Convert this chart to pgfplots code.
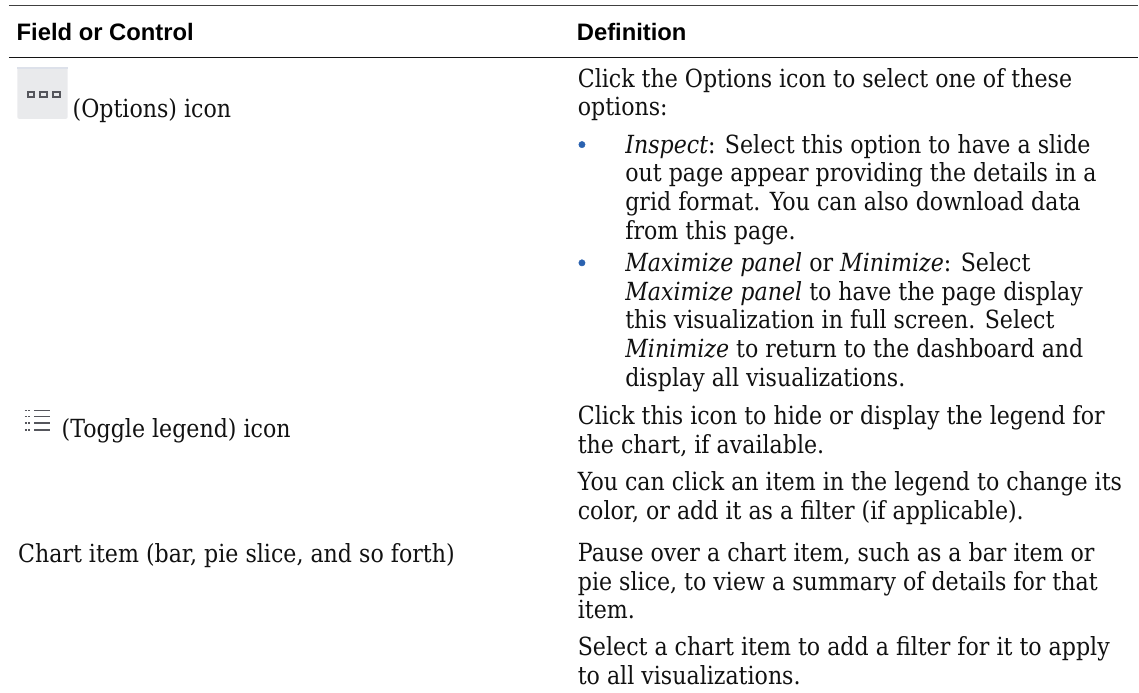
\documentclass[border=0pt]{standalone}
\usepackage{pgfplots}
\pgfplotsset{compat=1.18}
\usepackage{fontspec}
\setmainfont[FakeStretch=0.885]{DejaVu Serif}
\newfontfamily\hd{Liberation Sans}
\definecolor{txt}{HTML}{111111}
\definecolor{blt}{HTML}{2A62B0}
\definecolor{iconbg}{HTML}{E9EAEC}
\definecolor{icontop}{HTML}{DDE1EA}
\definecolor{iconfg}{HTML}{55565C}
\newcommand\T[3]{\node[anchor=base west,inner sep=0pt,text=txt,font=\fontsize{25pt}{29pt}\selectfont] at (axis cs:#1,#2) {#3};}
\begin{document}
\begin{tikzpicture}
\begin{axis}[hide axis,scale only axis,width=1139pt,height=693pt,xmin=0,xmax=1139,ymin=0,ymax=693,y dir=reverse,clip=false]
\path (axis cs:0,0) rectangle (axis cs:1139,693);
\draw[black!75,line width=1.4pt] (axis cs:9,5.7) -- (axis cs:1139,5.7);
\draw[black!92,line width=1.4pt] (axis cs:9,57.4) -- (axis cs:1139,57.4);
\node[anchor=base west,inner sep=0pt,font=\hd\bfseries\fontsize{23.8pt}{28pt}\selectfont] at (axis cs:16.5,40.7) {Field or Control};
\node[anchor=base west,inner sep=0pt,font=\hd\bfseries\fontsize{23.8pt}{28pt}\selectfont] at (axis cs:577,40.7) {Definition};
% options icon
\fill[iconbg,rounded corners=2pt] (axis cs:17.3,67.3) rectangle (axis cs:67.7,119);
\fill[icontop] (axis cs:17.3,67.3) rectangle (axis cs:67.7,69);
\foreach \x in {27.6,40.3,53}{\edef\tmp{\noexpand\draw[iconfg,line width=1.9pt] (axis cs:\x,91.7) rectangle (axis cs:\x+6.6,97.3);}\tmp}
\T{72.5}{118}{(Options) icon}
% toggle legend icon
\foreach \y in {410.7,416.7,423.3,430}{\edef\tmp{\noexpand\draw[iconfg,line width=1.6pt] (axis cs:34.3,\y) -- (axis cs:50,\y);\noexpand\draw[iconfg,line width=1.6pt,dash pattern=on 1.8pt off 1pt] (axis cs:25,\y) -- (axis cs:30,\y);}\tmp}
\T{61.5}{437.3}{(Toggle legend) icon}
\T{18}{563}{Chart item (bar, pie slice, and so forth)}
% right column
\T{578}{87.3}{Click the Options icon to select one of these}
\T{578}{116}{options:}
\addplot[only marks,mark=*,mark size=3.2pt,blt] coordinates {(582.3,144.7) (582.3,263)};
\T{625.5}{153.3}{\textit{Inspect}: Select this option to have a slide}
\T{625.5}{182}{out page appear providing the details in a}
\T{625.5}{210.7}{grid format. You can also download data}
\T{625.5}{239.4}{from this page.}
\T{625.5}{271.7}{\textit{Maximize panel} or \textit{Minimize}: Select}
\T{625.5}{300.4}{\textit{Maximize panel} to have the page display}
\T{625.5}{329.1}{this visualization in full screen. Select}
\T{625.5}{357.8}{\textit{Minimize} to return to the dashboard and}
\T{625.5}{386.5}{display all visualizations.}
\T{578}{425}{Click this icon to hide or display the legend for}
\T{578}{453.7}{the chart, if available.}
\T{578}{490.7}{You can click an item in the legend to change its}
\T{578}{519.4}{color, or add it as a filter (if applicable).}
\T{578}{561.7}{Pause over a chart item, such as a bar item or}
\T{578}{590.4}{pie slice, to view a summary of details for that}
\T{578}{619.1}{item.}
\T{578}{656}{Select a chart item to add a filter for it to apply}
\T{578}{684.7}{to all visualizations.}
\end{axis}
\end{tikzpicture}
\end{document}
